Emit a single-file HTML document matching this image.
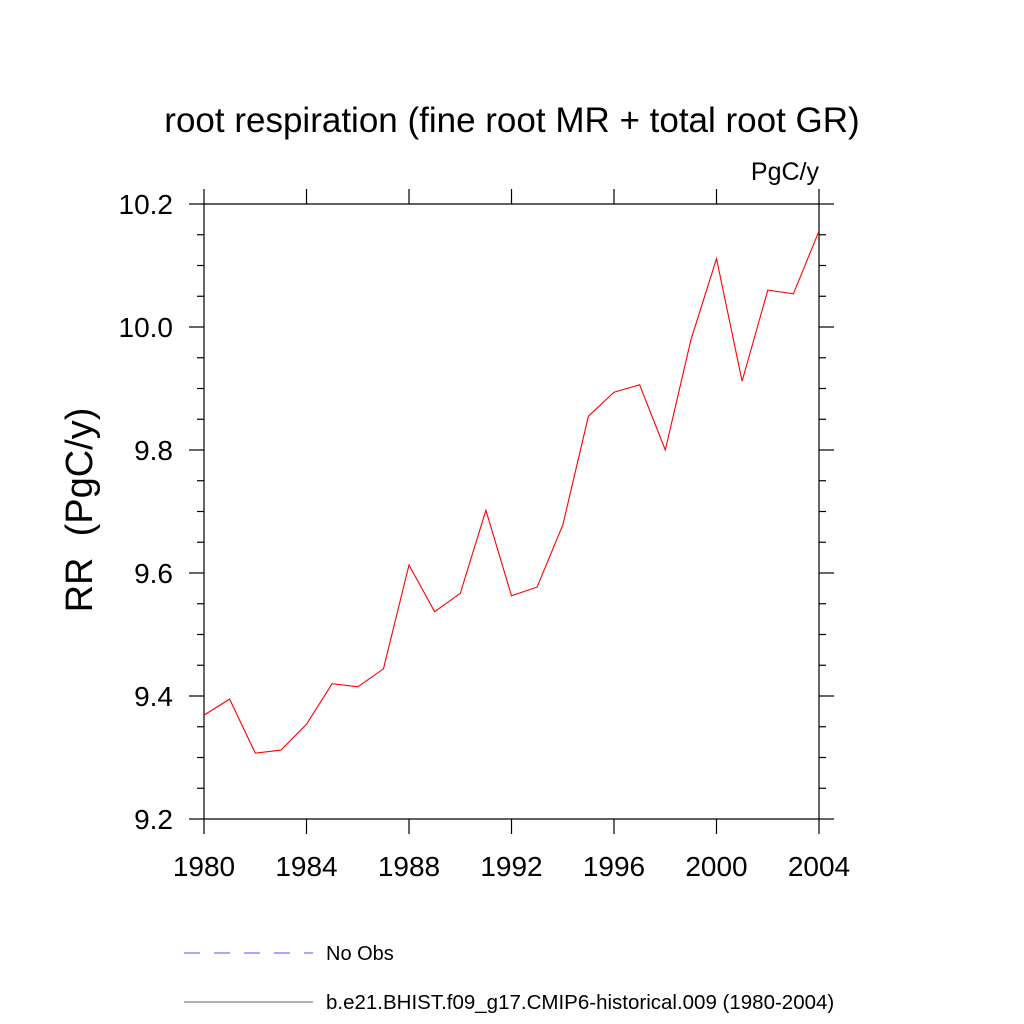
<!DOCTYPE html>
<html><head><meta charset="utf-8"><style>
body{margin:0;background:#fff}
svg{display:block;font-family:"Liberation Sans",sans-serif}
</style></head><body>
<svg id="chart" width="1024" height="1024">
<text x="512" y="132" font-size="35" text-anchor="middle">root respiration (fine root MR + total root GR)</text>
<text x="819" y="180" font-size="25" text-anchor="end">PgC/y</text>
<text transform="translate(92,510) rotate(-90)" font-size="38" text-anchor="middle" xml:space="preserve">RR  (PgC/y)</text>
<g id="axes"></g>
<path id="series" fill="none" stroke="#ff0000" stroke-width="1.1"/>
<g>
<line x1="184" y1="953" x2="313" y2="953" stroke="#5050ff" stroke-dasharray="16,14"/>
<text x="326" y="960" font-size="20">No Obs</text>
<line x1="184" y1="1002" x2="313" y2="1002" stroke="#666"/>
<text x="326" y="1009" font-size="20.5">b.e21.BHIST.f09_g17.CMIP6-historical.009 (1980-2004)</text>
</g>
</svg>
<script>
const years=[1980,1981,1982,1983,1984,1985,1986,1987,1988,1989,1990,1991,1992,1993,1994,1995,1996,1997,1998,1999,2000,2001,2002,2003,2004];
const values=[9.369,9.395,9.307,9.312,9.354,9.420,9.415,9.444,9.613,9.537,9.567,9.702,9.563,9.577,9.678,9.855,9.894,9.906,9.800,9.979,10.111,9.912,10.060,10.054,10.156];
const xTicks=[1980,1984,1988,1992,1996,2000,2004];
const yTicks=[9.2,9.4,9.6,9.8,10.0,10.2];
const yTickLabels=["9.2","9.4","9.6","9.8","10.0","10.2"];
const L=204,R=819,T=204,B=819;
const x=v=>L+(v-1980)/(2004-1980)*(R-L);
const y=v=>B-(v-9.2)/(10.2-9.2)*(B-T);
const NS="http://www.w3.org/2000/svg";
const ax=document.getElementById('axes');
function ln(x1,y1,x2,y2,name){const l=document.createElementNS(NS,'line');
l.setAttribute('x1',x1);l.setAttribute('y1',y1);l.setAttribute('x2',x2);l.setAttribute('y2',y2);
l.setAttribute('stroke','#000');l.setAttribute('stroke-width','1.2');


ax.appendChild(l);}
function tx(xx,yy,s,anchor,name){const t=document.createElementNS(NS,'text');
t.setAttribute('x',xx);t.setAttribute('y',yy);t.setAttribute('font-size','28');t.setAttribute('text-anchor',anchor);t.textContent=s;


ax.appendChild(t);}
ln(L,T,R,T,'plot-frame-top');ln(L,B,R,B,'plot-frame-bottom');ln(L,T,L,B,'plot-frame-left');ln(R,T,R,B,'plot-frame-right');
for(let v=9.2;v<=10.2001;v+=0.05){const yy=y(v);const major=Math.abs(v*5-Math.round(v*5))<1e-6;const len=major?15:7;
ln(L-len,yy,L,yy,'y-tick');ln(R,yy,R+len,yy,'y-tick-right');}
xTicks.forEach(v=>{ln(x(v),T-15,x(v),T,'x-tick-top');ln(x(v),B,x(v),B+15,'x-tick');tx(x(v),876,String(v),'middle','x-tick-label');});
yTicks.forEach((v,i)=>tx(173,y(v)+10,yTickLabels[i],'end','y-tick-label'));
document.getElementById('series').setAttribute('d',years.map((yr,i)=>(i?'L':'M')+x(yr).toFixed(1)+','+y(values[i]).toFixed(1)).join(' '));
</script>
</body></html>
